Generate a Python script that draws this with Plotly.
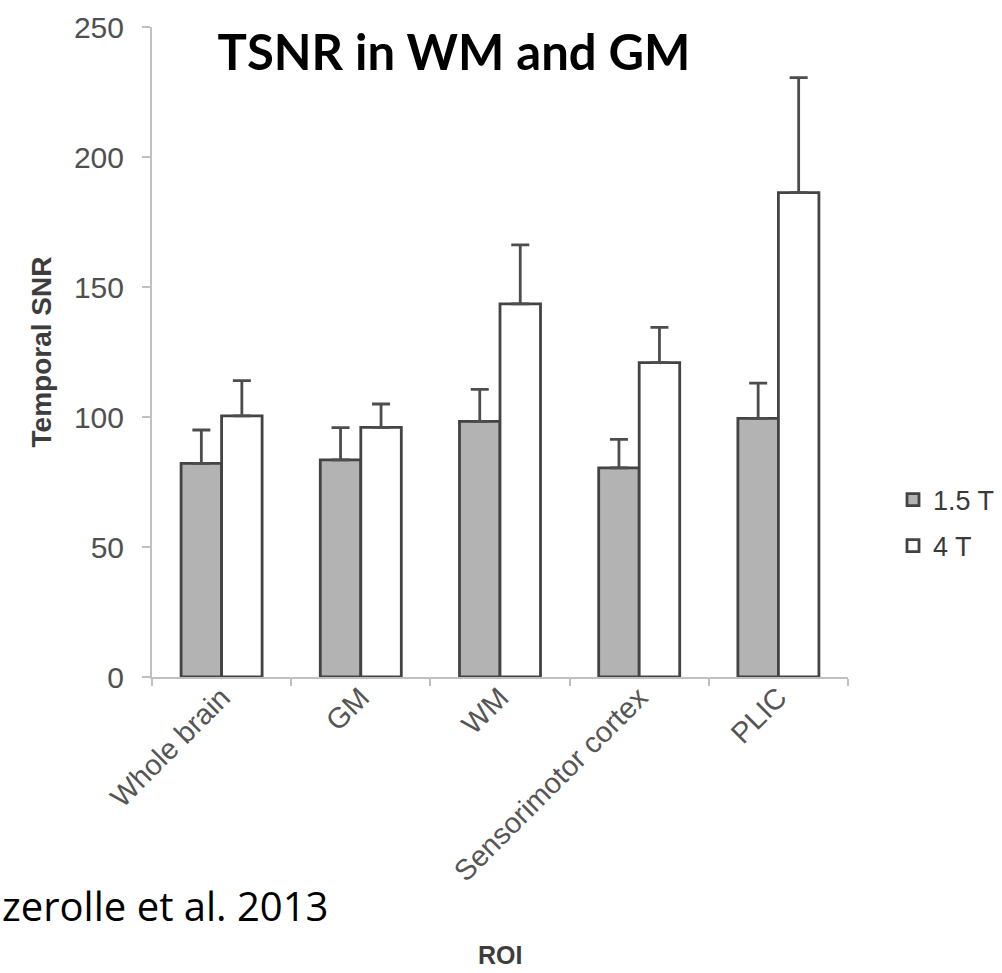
import plotly.graph_objects as go

categories = ["Whole brain", "GM", "WM", "Sensorimotor cortex", "PLIC"]
series_names = ["1.5 T", "4 T"]
tsnr_15T = [82.2, 83.5, 98.3, 80.4, 99.5]
tsnr_15T_err = [12.8, 12.4, 12.3, 11.0, 13.5]
tsnr_4T = [100.4, 96.0, 143.5, 120.9, 186.3]
tsnr_4T_err = [13.6, 9.0, 22.7, 13.6, 44.2]
y_ticks = [0, 50, 100, 150, 200, 250]

W, H = 1002, 973
L, R, T, B = 152, 154, 27, 296
pw, ph = W - L - R, H - T - B

def px_x(px):
    return (px - L) / pw

def px_y(py):
    return (H - B - py) / ph

edge = "#434343"
err_col = "#4d4d4d"
fig = go.Figure()
for name, vals, errs, fill, grp in [
    (series_names[0], tsnr_15T, tsnr_15T_err, "#b3b3b3", "a"),
    (series_names[1], tsnr_4T, tsnr_4T_err, "#ffffff", "b"),
]:
    fig.add_trace(go.Bar(
        x=categories, y=vals, name=name, legendgroup=grp,
        marker=dict(color=fill, line=dict(color=edge, width=2.8)),
        error_y=dict(type="data", array=errs, arrayminus=[0] * len(errs),
                     symmetric=False, color=err_col, thickness=2.8, width=9),
    ))

fig.update_layout(
    width=W, height=H,
    margin=dict(l=L, r=R, t=T, b=B, autoexpand=False),
    paper_bgcolor="white", plot_bgcolor="white",
    barmode="group", bargap=0.418, bargroupgap=0,
    font=dict(family="Liberation Sans, Arial", color="#444444"),
    title=dict(text="<b>TSNR in WM and GM</b>", x=px_x(454), xref="paper",
               xanchor="center", y=1 - 53 / H, yref="container", yanchor="middle",
               font=dict(family="Lato", size=49, color="#000000")),
    legend=dict(x=px_x(893), y=px_y(523), xanchor="left", yanchor="middle",
                font=dict(size=27, color="#3a3a3a", family="Liberation Sans, Arial"),
                tracegroupgap=8, itemwidth=30, bgcolor="rgba(0,0,0,0)"),
    showlegend=True,
)
fig.update_xaxes(
    showline=True, linecolor="#c0c0c0", linewidth=2,
    ticks="outside", tickson="boundaries", ticklen=7, tickcolor="#c0c0c0", tickwidth=2,
    tickangle=-45, tickfont=dict(size=29, color="#555555"),
    ticklabelstandoff=-10,
    showgrid=False,
)
fig.update_yaxes(
    range=[0, 250], tickvals=y_ticks,
    showline=True, linecolor="#c0c0c0", linewidth=2,
    ticks="outside", ticklen=8, tickcolor="#c0c0c0", tickwidth=2,
    ticklabelstandoff=12,
    tickfont=dict(size=30, color="#505050"), showgrid=False, zeroline=False,
    title=dict(text="<b>Temporal SNR</b>", font=dict(size=28, color="#3d3d3d"), standoff=14),
)
fig.add_annotation(
    text="<b>ROI</b>", xref="paper", yref="paper",
    x=px_x(500), y=px_y(955), xanchor="center", yanchor="middle", showarrow=False,
    font=dict(family="Liberation Sans, Arial", size=25, color="#3d3d3d"),
)
fig.add_annotation(
    text="zerolle et al. 2013", xref="paper", yref="paper",
    x=px_x(0), y=px_y(905), xanchor="left", yanchor="middle", showarrow=False,
    font=dict(family="Open Sans", size=40, color="#000000"),
)
fig.write_html("out.html")
